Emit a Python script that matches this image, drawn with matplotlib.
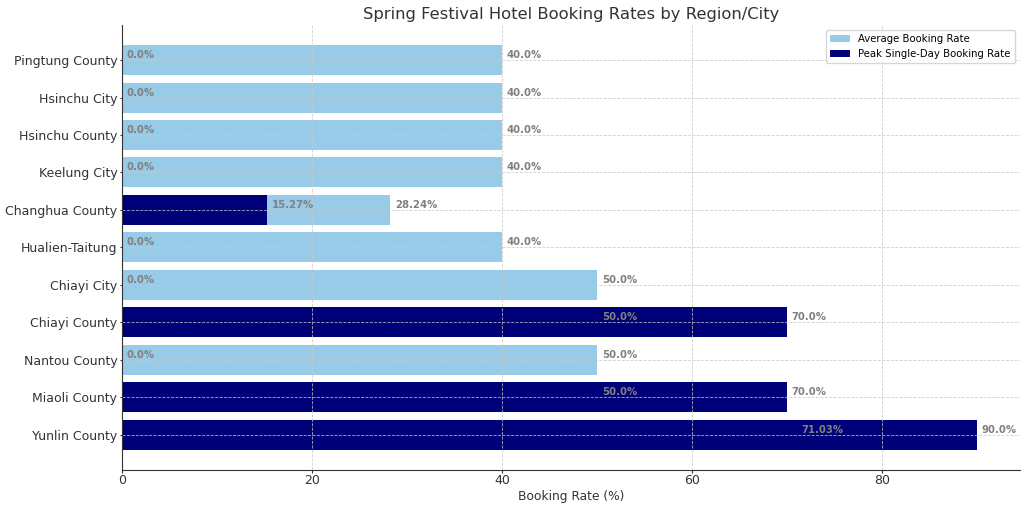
import numpy as np
import matplotlib
matplotlib.use("Agg")
import matplotlib.pyplot as plt

# ── data (bottom → top) ──────────────────────────────────────────────────────
regions = ["Yunlin County", "Miaoli County", "Nantou County", "Chiayi County",
           "Chiayi City", "Hualien-Taitung", "Changhua County", "Keelung City",
           "Hsinchu County", "Hsinchu City", "Pingtung County"]
avg_rate  = [71.03, 50.0, 50.0, 50.0, 50.0, 40.0, 28.24, 40.0, 40.0, 40.0, 40.0]
peak_rate = [90.0, 70.0, 0.0, 70.0, 0.0, 0.0, 15.27, 0.0, 0.0, 0.0, 0.0]

LIGHT = "#98CBE7"
DARK  = "#000078"
TXT   = "#333333"

fig, ax = plt.subplots(figsize=(10.24, 5.07), dpi=100)
fig.subplots_adjust(left=0.119, right=0.996, top=0.951, bottom=0.073)

y = np.arange(len(regions))
ax.barh(y, avg_rate, height=0.8, color=LIGHT, label="Average Booking Rate")
ax.barh(y, peak_rate, height=0.8, color=DARK, label="Peak Single-Day Booking Rate")

# value labels
for yi, v in zip(y, avg_rate):
    ax.text(v + 0.5, yi, f"{v}%", va="bottom", ha="left",
            fontsize=7.3, color="gray", fontweight="bold")
for yi, v in zip(y, peak_rate):
    ax.text(v + 0.5, yi, f"{v}%", va="bottom", ha="left",
            fontsize=7.3, color="gray", fontweight="bold")

ax.set_yticks(y)
ax.set_yticklabels(regions)
ax.tick_params(axis="both", labelsize=9.0, colors=TXT, length=1.8, pad=1.4)
ax.set_xlabel("Booking Rate (%)", fontsize=8.8, color=TXT, labelpad=1.5)
ax.set_title("Spring Festival Hotel Booking Rates by Region/City",
             fontsize=11.8, color=TXT, pad=4.4)

ax.set_axisbelow(False)
ax.grid(True, linestyle="--", linewidth=0.6, color="#c8c8c8", alpha=0.85)
for s in ["top", "right"]:
    ax.spines[s].set_visible(False)
for s in ["left", "bottom"]:
    ax.spines[s].set_color(TXT)
    ax.spines[s].set_zorder(3)

ax.legend(loc="upper right", fontsize=7.3)

fig.savefig("out.png", dpi=100)
